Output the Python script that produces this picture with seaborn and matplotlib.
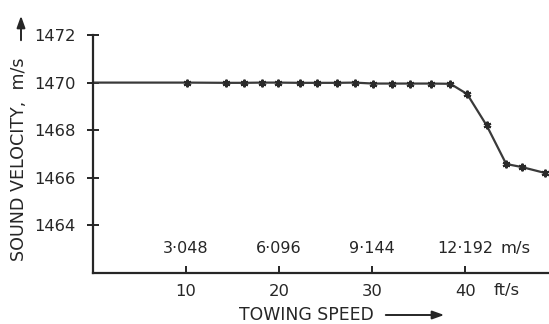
import matplotlib
matplotlib.use("Agg")
import matplotlib.pyplot as plt
import seaborn as sns
import pandas as pd

# Data (towing speed in ft/s, sound velocity in m/s)
speed_fts = [0.0, 10.1, 14.3, 16.2, 18.2, 19.9, 22.2, 24.1, 26.2, 28.1, 30.1,
             32.1, 34.1, 36.3, 38.4, 40.2, 42.3, 44.4, 46.1, 48.6]
velocity = [1470.0, 1470.0, 1469.99, 1469.99, 1470.0, 1470.0, 1469.99, 1469.99,
            1469.99, 1470.0, 1469.96, 1469.96, 1469.96, 1469.96, 1469.95,
            1469.52, 1468.2, 1466.58, 1466.45, 1466.2]
ft_ticks = [10, 20, 30, 40]
ft_labels = ["10", "20", "30", "40"]
ms_labels = ["3·048", "6·096", "9·144", "12·192"]
y_ticks = [1464, 1466, 1468, 1470, 1472]

sns.set_theme(style="white")
plt.rcParams['font.family'] = ['DejaVu Sans']
ink = "#262626"

df = pd.DataFrame({"speed": speed_fts, "vel": velocity})

fig = plt.figure(figsize=(5.49, 3.24), dpi=100)
ax = fig.add_axes([93/549, 1 - 273/324, 1 - 93/549, (273 - 35)/324])

sns.lineplot(data=df, x="speed", y="vel", ax=ax, color="#3a3a3a", lw=1.6,
             marker=(6, 2, 0), markersize=5.5, markeredgewidth=1.5,
             markeredgecolor="#2a2a2a", markevery=list(range(1, len(df))))

ax.set_xlim(0, 49)
ax.set_ylim(1462.0, 1472.0)
for s in ["top", "right"]:
    ax.spines[s].set_visible(False)
for s in ["left", "bottom"]:
    ax.spines[s].set_color(ink)
    ax.spines[s].set_linewidth(1.6)

ax.set_xticks(ft_ticks)
ax.set_xticklabels(ft_labels)
ax.set_yticks(y_ticks)
ax.set_yticklabels([str(v) for v in y_ticks])
ax.tick_params(axis="x", bottom=True, direction="in", length=5, width=1.4,
               color=ink, labelsize=11.8, labelcolor=ink, pad=8)
ax.tick_params(axis="y", left=True, direction="inout", length=9, width=1.4,
               color=ink, labelsize=11.8, labelcolor=ink, pad=8)
ax.set_xlabel("")
ax.set_ylabel("")

# secondary m/s labels inside the plot
for xv, lab in zip(ft_ticks, ms_labels):
    ax.text(xv, 0.105, lab, transform=ax.get_xaxis_transform(),
            ha="center", va="center", fontsize=11.5, color=ink)
ax.text(45.4, 0.105, "m/s", transform=ax.get_xaxis_transform(),
        ha="center", va="center", fontsize=11.8, color=ink)
ax.text(44.4, -0.075, "ft/s", transform=ax.get_xaxis_transform(),
        ha="center", va="center", fontsize=11.8, color=ink)

# axis titles with arrows
fig.text(306/549, 1 - 315/324, "TOWING SPEED", ha="center", va="center",
         fontsize=12.4, color=ink)
fig.add_artist(matplotlib.patches.FancyArrowPatch(
    (383/549, 1 - 315/324), (447/549, 1 - 315/324), transform=fig.transFigure,
    arrowstyle="-|>,head_length=7,head_width=2.5", color=ink, lw=1.4))

fig.text(19/549, 1 - 159/324, "SOUND VELOCITY,  m/s", ha="center", va="center",
         rotation=90, fontsize=12.6, color=ink)
fig.add_artist(matplotlib.patches.FancyArrowPatch(
    (21/549, 1 - 43/324), (21/549, 1 - 13/324), transform=fig.transFigure,
    arrowstyle="-|>,head_length=7,head_width=2.5", color=ink, lw=1.4))

fig.savefig("out.png", dpi=100, facecolor="white")
